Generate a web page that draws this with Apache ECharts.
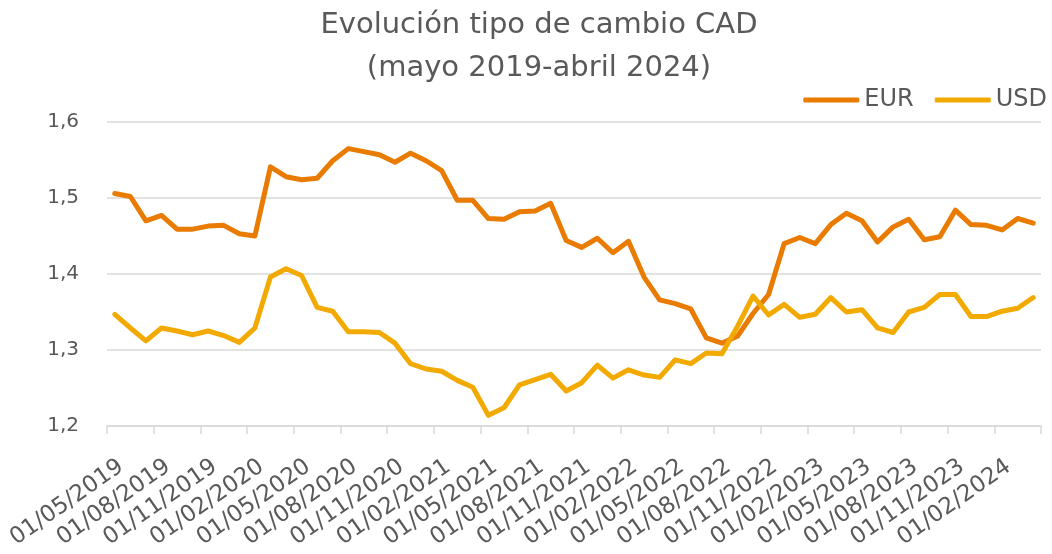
<!DOCTYPE html>
<html>
<head>
<meta charset="utf-8">
<script src="https://cdn.jsdelivr.net/npm/echarts@6/dist/echarts.min.js"></script>
<style>
    html, body { margin: 0; padding: 0; background: #fff; }
    #chart { width: 1052px; height: 554px; }
</style>
</head>
<body>
<div id="chart"></div>
<script>
    // meses (mayo 2019 - abril 2024)
    const categories = [
        '01/05/2019', '01/06/2019', '01/07/2019', '01/08/2019', '01/09/2019', '01/10/2019',
        '01/11/2019', '01/12/2019', '01/01/2020', '01/02/2020', '01/03/2020', '01/04/2020',
        '01/05/2020', '01/06/2020', '01/07/2020', '01/08/2020', '01/09/2020', '01/10/2020',
        '01/11/2020', '01/12/2020', '01/01/2021', '01/02/2021', '01/03/2021', '01/04/2021',
        '01/05/2021', '01/06/2021', '01/07/2021', '01/08/2021', '01/09/2021', '01/10/2021',
        '01/11/2021', '01/12/2021', '01/01/2022', '01/02/2022', '01/03/2022', '01/04/2022',
        '01/05/2022', '01/06/2022', '01/07/2022', '01/08/2022', '01/09/2022', '01/10/2022',
        '01/11/2022', '01/12/2022', '01/01/2023', '01/02/2023', '01/03/2023', '01/04/2023',
        '01/05/2023', '01/06/2023', '01/07/2023', '01/08/2023', '01/09/2023', '01/10/2023',
        '01/11/2023', '01/12/2023', '01/01/2024', '01/02/2024', '01/03/2024', '01/04/2024'
    ]

    const eur = [
        1.506, 1.502, 1.470, 1.477, 1.459, 1.459, 1.463, 1.464, 1.453, 1.450,
        1.541, 1.528, 1.524, 1.526, 1.549, 1.565, 1.561, 1.557, 1.547, 1.559,
        1.549, 1.536, 1.497, 1.497, 1.473, 1.472, 1.482, 1.483, 1.493, 1.444,
        1.435, 1.447, 1.428, 1.443, 1.396, 1.366, 1.361, 1.354, 1.316, 1.309,
        1.318, 1.348, 1.373, 1.440, 1.448, 1.440, 1.465, 1.480, 1.470, 1.442,
        1.462, 1.472, 1.445, 1.449, 1.484, 1.465, 1.464, 1.458, 1.473, 1.467
    ]

    const usd = [
        1.347, 1.329, 1.312, 1.329, 1.325, 1.320, 1.325, 1.319, 1.310, 1.329,
        1.396, 1.407, 1.398, 1.356, 1.351, 1.324, 1.324, 1.323, 1.309, 1.282,
        1.275, 1.272, 1.260, 1.251, 1.214, 1.224, 1.254, 1.261, 1.268, 1.246,
        1.257, 1.280, 1.263, 1.274, 1.267, 1.264, 1.287, 1.282, 1.296, 1.295,
        1.331, 1.371, 1.346, 1.360, 1.343, 1.347, 1.369, 1.350, 1.353, 1.329,
        1.323, 1.350, 1.356, 1.373, 1.373, 1.344, 1.344, 1.351, 1.355, 1.369
    ]

    const textColor = '#595959'
    const gridColor = '#D9D9D9'
    const fontFamily = '"DejaVu Sans", sans-serif'

    let myChart = echarts.init(document.getElementById('chart'))

    let option = {
        animation: false,
        title: {
            text: 'Evolución tipo de cambio CAD\n(mayo 2019-abril 2024)',
            left: 539,
            top: 4,
            padding: 0,
            textAlign: 'center',
            textStyle: {
                color: textColor,
                fontFamily: fontFamily,
                fontWeight: 'normal',
                fontSize: 29,
                lineHeight: 43
            }
        },
        legend: {
            right: 0,
            top: 83,
            itemGap: 21,
            itemWidth: 56,
            itemHeight: 5,
            icon: 'roundRect',
            textStyle: {
                color: textColor,
                fontFamily: fontFamily,
                fontSize: 24
            },
            data: ['EUR', 'USD']
        },
        grid: {
            left: 107,
            right: 11,
            top: 122,
            bottom: 128,
            containLabel: false,
            outerBoundsMode: 'none'
        },
        xAxis: {
            type: 'category',
            boundaryGap: true,
            data: categories,
            axisLine: {
                lineStyle: { color: gridColor, width: 1.5 }
            },
            axisTick: {
                show: true,
                interval: 2,
                length: 8,
                lineStyle: { color: gridColor, width: 1.5 }
            },
            axisLabel: {
                interval: 2,
                rotate: 35,
                margin: 29,
                verticalAlign: 'top',
                color: textColor,
                fontFamily: fontFamily,
                fontSize: 23
            }
        },
        yAxis: {
            type: 'value',
            min: 1.2,
            max: 1.6,
            interval: 0.1,
            axisLine: { show: false },
            axisTick: { show: false },
            splitLine: {
                lineStyle: { color: gridColor, width: 1.5 }
            },
            axisLabel: {
                margin: 28,
                color: textColor,
                fontFamily: fontFamily,
                fontSize: 20,
                formatter: function (value) {
                    return value.toFixed(1).replace('.', ',')
                }
            }
        },
        series: [{
            name: 'EUR',
            type: 'line',
            data: eur,
            symbol: 'none',
            color: '#E97B00',
            lineStyle: { width: 5, cap: 'round', join: 'round' }
        }, {
            name: 'USD',
            type: 'line',
            data: usd,
            symbol: 'none',
            color: '#F3AA00',
            lineStyle: { width: 5, cap: 'round', join: 'round' }
        }]
    }

    myChart.setOption(option)
</script>
</body>
</html>
